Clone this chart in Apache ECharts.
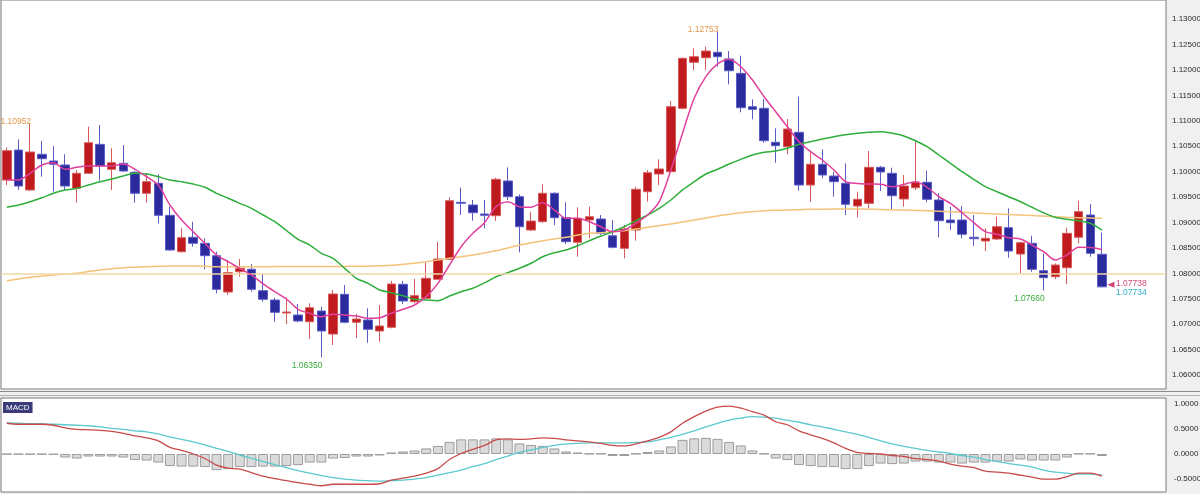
<!DOCTYPE html>
<html><head><meta charset="utf-8">
<script src="https://cdn.jsdelivr.net/npm/echarts@6/dist/echarts.min.js"></script>
<style>html,body{margin:0;padding:0;background:#f0f0f0}#c{width:1200px;height:494px}</style>
</head><body><div id="c"></div><script>
// ---- data ----
const opens = [1.09834,1.10424,1.09638,1.10340,1.10208,1.10129,1.09671,1.09966,1.10536,1.10045,
1.10163,1.09986,1.09573,1.09770,1.09140,1.08425,1.08708,1.08590,1.08346,1.07632,
1.08031,1.08079,1.07658,1.07475,1.07219,1.07180,1.07048,1.07259,1.06806,1.07587,
1.07037,1.07082,1.06865,1.06938,1.07784,1.07442,1.07508,1.07882,1.08275,1.09396,
1.09343,1.09166,1.09133,1.09815,1.09506,1.08851,1.09015,1.09573,1.09093,1.08610,
1.09048,1.09068,1.08739,1.08491,1.08851,1.09604,1.09952,1.09998,1.11244,1.12149,
1.12239,1.12345,1.12214,1.11932,1.11276,1.11244,1.10576,1.10489,1.10772,1.09736,
1.10143,1.09913,1.09770,1.09323,1.09376,1.10084,1.09966,1.09461,1.09683,1.09789,
1.09441,1.09048,1.09048,1.08708,1.08635,1.08674,1.08897,1.08379,1.08590,1.08051,
1.07933,1.08110,1.08708,1.09146,1.08374];
const closes = [1.10411,1.09716,1.10385,1.10253,1.10143,1.09716,1.09966,1.10568,1.10110,1.10175,
1.10011,1.09573,1.09801,1.09140,1.08458,1.08700,1.08590,1.08346,1.07685,1.08012,
1.08098,1.07685,1.07489,1.07233,1.07239,1.07062,1.07324,1.06865,1.07593,1.07037,
1.07101,1.06899,1.06964,1.07790,1.07455,1.07560,1.07902,1.08281,1.09427,1.09376,
1.09191,1.09140,1.09848,1.09506,1.08916,1.09028,1.09573,1.09093,1.08621,1.09081,
1.09113,1.08786,1.08511,1.08871,1.09652,1.09978,1.10051,1.11276,1.12227,1.12259,
1.12371,1.12259,1.11983,1.11256,1.11224,1.10607,1.10509,1.10837,1.09736,1.10143,
1.09933,1.09801,1.09357,1.09455,1.10084,1.09992,1.09526,1.09716,1.09789,1.09455,
1.09034,1.08995,1.08767,1.08680,1.08688,1.08916,1.08438,1.08602,1.08079,1.07913,
1.08163,1.08786,1.09211,1.08393,1.07734];
const lows = [1.09736,1.09638,1.09618,1.09899,1.09604,1.09638,1.09388,1.09950,1.09821,1.09638,
1.09995,1.09388,1.09388,1.08983,1.08444,1.08405,1.08523,1.08079,1.07607,1.07573,
1.07933,1.07638,1.07442,1.07048,1.07003,1.07037,1.06708,1.06350,1.06590,1.07017,
1.06722,1.06635,1.06655,1.06918,1.07396,1.07410,1.07489,1.07869,1.08261,1.09146,
1.09034,1.08885,1.09028,1.09441,1.08413,1.08832,1.08995,1.08950,1.08576,1.08326,
1.08688,1.08753,1.08491,1.08295,1.08641,1.09408,1.09736,1.09986,1.11224,1.11997,
1.11997,1.12062,1.11716,1.11166,1.11028,1.10568,1.10175,1.10340,1.09624,1.09408,
1.09868,1.09506,1.09146,1.09101,1.09278,1.09618,1.09264,1.09310,1.09638,1.09396,
1.08708,1.08851,1.08688,1.08537,1.08438,1.08655,1.08307,1.08000,1.08031,1.07660,
1.07888,1.07790,1.08590,1.08326,1.07725];
const highs = [1.10477,1.10635,1.10952,1.10601,1.10503,1.10340,1.10031,1.10882,1.10916,1.10458,
1.10523,1.10011,1.09966,1.09946,1.09310,1.08885,1.09015,1.08688,1.08425,1.08261,
1.08281,1.08183,1.08000,1.07520,1.07524,1.07396,1.07410,1.07343,1.07672,1.07770,
1.07194,1.07312,1.07377,1.07849,1.07849,1.07888,1.08208,1.08615,1.09494,1.09683,
1.09441,1.09441,1.09880,1.10084,1.09553,1.09211,1.09750,1.09593,1.09396,1.09298,
1.09310,1.09146,1.09048,1.08950,1.09703,1.10031,1.10241,1.11388,1.12240,1.12424,
1.12455,1.12753,1.12371,1.12278,1.11421,1.11427,1.10851,1.11034,1.11472,1.10371,
1.10438,1.09998,1.10163,1.09604,1.10405,1.10110,1.10076,1.09933,1.10621,1.10017,
1.09573,1.09310,1.09323,1.09146,1.08885,1.09113,1.09278,1.08622,1.08739,1.08393,
1.08196,1.08897,1.09427,1.09363,1.08798];
const maShort = [1.09835,1.09835,1.09966,1.10129,1.10175,1.10045,1.10084,1.10110,1.10110,1.10110,
1.10149,1.10045,1.09899,1.09736,1.09343,1.09048,1.08818,1.08590,1.08360,1.08228,
1.08098,1.07967,1.07790,1.07638,1.07495,1.07292,1.07214,1.07147,1.07194,1.07180,
1.07160,1.07115,1.07127,1.07214,1.07292,1.07377,1.07541,1.07803,1.08163,1.08523,
1.08786,1.08995,1.09310,1.09408,1.09310,1.09298,1.09388,1.09245,1.09081,1.09081,
1.09015,1.08916,1.08818,1.08851,1.08983,1.09146,1.09408,1.10031,1.10753,1.11441,
1.11866,1.12115,1.12208,1.12062,1.11801,1.11472,1.11177,1.10882,1.10588,1.10391,
1.10228,1.10031,1.09801,1.09766,1.09756,1.09750,1.09703,1.09750,1.09801,1.09691,
1.09506,1.09376,1.09191,1.08995,1.08818,1.08767,1.08700,1.08674,1.08556,1.08425,
1.08262,1.08360,1.08511,1.08507,1.08468];
const maMid = [1.09298,1.09343,1.09408,1.09486,1.09573,1.09638,1.09671,1.09736,1.09801,1.09854,
1.09913,1.09966,1.09952,1.09899,1.09834,1.09801,1.09756,1.09691,1.09573,1.09475,
1.09376,1.09278,1.09146,1.09015,1.08842,1.08669,1.08556,1.08393,1.08295,1.08098,
1.07902,1.07803,1.07672,1.07619,1.07560,1.07489,1.07475,1.07461,1.07554,1.07638,
1.07705,1.07811,1.07933,1.08012,1.08098,1.08197,1.08326,1.08405,1.08458,1.08541,
1.08641,1.08733,1.08818,1.08916,1.09034,1.09146,1.09278,1.09441,1.09640,1.09801,
1.09952,1.10045,1.10149,1.10241,1.10326,1.10379,1.10405,1.10458,1.10536,1.10588,
1.10641,1.10686,1.10725,1.10753,1.10772,1.10784,1.10753,1.10700,1.10607,1.10489,
1.10326,1.10163,1.09998,1.09848,1.09703,1.09604,1.09506,1.09408,1.09298,1.09191,
1.09101,1.09061,1.09034,1.08983,1.08851];
const maLong = [1.07854,1.07888,1.07921,1.07947,1.07967,1.07986,1.08000,1.08035,1.08065,1.08089,
1.08110,1.08120,1.08130,1.08138,1.08144,1.08144,1.08144,1.08138,1.08130,1.08130,
1.08130,1.08130,1.08130,1.08132,1.08134,1.08134,1.08134,1.08134,1.08136,1.08136,
1.08138,1.08140,1.08147,1.08157,1.08177,1.08197,1.08228,1.08261,1.08295,1.08326,
1.08360,1.08399,1.08444,1.08497,1.08556,1.08596,1.08641,1.08674,1.08708,1.08753,
1.08786,1.08798,1.08818,1.08838,1.08871,1.08904,1.08936,1.08969,1.09009,1.09048,
1.09087,1.09127,1.09160,1.09191,1.09211,1.09231,1.09239,1.09245,1.09251,1.09258,
1.09260,1.09264,1.09264,1.09264,1.09260,1.09254,1.09248,1.09245,1.09237,1.09229,
1.09221,1.09211,1.09200,1.09188,1.09176,1.09166,1.09156,1.09146,1.09136,1.09127,
1.09113,1.09101,1.09093,1.09087,1.09081];
const macdLine = [0.61,0.59,0.59,0.59,0.57,0.52,0.49,0.48,0.47,0.45,
0.41,0.36,0.32,0.26,0.13,0.07,0.00,-0.09,-0.22,-0.28,
-0.30,-0.37,-0.44,-0.49,-0.53,-0.57,-0.60,-0.63,-0.60,-0.60,
-0.60,-0.60,-0.59,-0.52,-0.48,-0.44,-0.38,-0.29,-0.11,0.01,
0.09,0.17,0.28,0.30,0.29,0.30,0.32,0.31,0.28,0.26,
0.24,0.21,0.17,0.16,0.20,0.26,0.33,0.44,0.61,0.74,
0.85,0.93,0.95,0.91,0.84,0.77,0.64,0.58,0.46,0.38,
0.31,0.22,0.11,0.03,0.01,0.00,-0.03,-0.05,-0.09,-0.11,
-0.14,-0.20,-0.24,-0.27,-0.34,-0.36,-0.38,-0.42,-0.46,-0.50,
-0.50,-0.45,-0.38,-0.38,-0.44];
const signalLine = [0.62,0.61,0.60,0.60,0.59,0.58,0.57,0.56,0.54,0.51,
0.49,0.46,0.44,0.40,0.34,0.29,0.24,0.18,0.11,0.05,
-0.02,-0.08,-0.15,-0.21,-0.27,-0.33,-0.38,-0.43,-0.47,-0.50,
-0.52,-0.53,-0.54,-0.53,-0.52,-0.50,-0.47,-0.42,-0.37,-0.32,
-0.25,-0.19,-0.11,-0.04,0.03,0.08,0.13,0.17,0.20,0.21,
0.22,0.22,0.22,0.22,0.23,0.24,0.28,0.33,0.39,0.46,
0.54,0.61,0.67,0.71,0.74,0.73,0.71,0.67,0.63,0.58,
0.54,0.49,0.44,0.39,0.33,0.26,0.20,0.15,0.11,0.07,
0.04,0.01,-0.03,-0.06,-0.11,-0.15,-0.19,-0.22,-0.26,-0.32,
-0.36,-0.38,-0.40,-0.40,-0.42];
const histogram = [-0.005,-0.005,-0.005,-0.005,-0.01,-0.07,-0.09,-0.05,-0.05,-0.05,
-0.07,-0.12,-0.13,-0.17,-0.24,-0.25,-0.25,-0.26,-0.32,-0.30,
-0.26,-0.26,-0.25,-0.25,-0.24,-0.22,-0.17,-0.17,-0.09,-0.08,
-0.05,-0.05,-0.03,0.03,0.05,0.07,0.11,0.16,0.24,0.29,
0.29,0.29,0.31,0.29,0.21,0.18,0.16,0.11,0.05,0.03,
0.005,0.005,-0.04,-0.04,0.005,0.04,0.07,0.15,0.28,0.31,
0.32,0.30,0.24,0.17,0.07,0.005,-0.09,-0.12,-0.22,-0.24,
-0.26,-0.26,-0.30,-0.30,-0.24,-0.19,-0.20,-0.19,-0.15,-0.15,
-0.17,-0.17,-0.19,-0.17,-0.17,-0.15,-0.15,-0.11,-0.13,-0.13,
-0.13,-0.07,0.005,0.005,-0.04];
const priceTicks = [1.06,1.065,1.07,1.075,1.08,1.085,1.09,1.095,1.10,1.105,1.11,1.115,1.12,1.125,1.13];
const macdTicks = [-0.5,0,0.5,1.0];
const bidPrice = 1.07738;
const highMarks = [2, 61];   // candle indexes of annotated highs
const lowMarks = [27, 89];   // candle indexes of annotated lows
const SLOTS = 100;           // category slots (95 candles + empty space on the right)
const categories = Array.from({length: SLOTS}, (_, i) => 'D' + (i + 1));

// ---- chart ----
const chart = echarts.init(document.getElementById('c'), null, {renderer: 'canvas'});
const lastIdx = closes.length - 1;
const candles = opens.map((o, i) => [o, closes[i], lows[i], highs[i]]);
const axisFont = "'Liberation Sans','Arial',sans-serif";
const markFont = "'Liberation Sans','DejaVu Sans',sans-serif";
const hidden = {show: false};

const markData = [];
highMarks.forEach(i => markData.push({
  coord: [categories[i], highs[i]], symbol: 'circle', symbolSize: 1,
  itemStyle: {color: 'rgba(0,0,0,0)'},
  label: {show: true, position: 'inside', formatter: highs[i].toFixed(5), color: '#e39a4a',
    fontSize: 8.5, fontFamily: markFont, align: 'right', verticalAlign: 'bottom', offset: [1, 3]}
}));
lowMarks.forEach(i => markData.push({
  coord: [categories[i], lows[i]], symbol: 'circle', symbolSize: 1,
  itemStyle: {color: 'rgba(0,0,0,0)'},
  label: {show: true, position: 'inside', formatter: lows[i].toFixed(5), color: '#3aad3a',
    fontSize: 8.5, fontFamily: markFont, align: 'right', verticalAlign: 'top', offset: [1, 4]}
}));
markData.push({
  coord: [categories[lastIdx], bidPrice], symbol: 'triangle', symbolSize: [6, 7], symbolRotate: 90,
  symbolOffset: [9, -2], itemStyle: {color: '#d0407a'}, label: {show: false}
});
markData.push({
  coord: [categories[lastIdx], bidPrice], symbol: 'circle', symbolSize: 1,
  itemStyle: {color: 'rgba(0,0,0,0)'},
  label: {show: true, position: 'inside', formatter: bidPrice.toFixed(5), color: '#d04a7c',
    fontSize: 8.5, fontFamily: markFont, align: 'left', verticalAlign: 'middle', offset: [14, -3]}
});
markData.push({
  coord: [categories[lastIdx], closes[lastIdx]], symbol: 'circle', symbolSize: 1,
  itemStyle: {color: 'rgba(0,0,0,0)'},
  label: {show: true, position: 'inside', formatter: closes[lastIdx].toFixed(5), color: '#30afc8',
    fontSize: 8.5, fontFamily: markFont, align: 'left', verticalAlign: 'middle', offset: [14, 5.5]}
});

const option = {
  animation: false,
  backgroundColor: '#f0f0f0',
  title: {
    text: 'MACD', left: 3, top: 402, padding: [2, 3, 1, 3], backgroundColor: '#3b3b7a',
    textStyle: {color: '#ffffff', fontSize: 8, fontWeight: 'normal', fontFamily: markFont}
  },
  grid: [
    {left: 1, top: 0, width: 1165, height: 389, show: true, backgroundColor: '#ffffff', borderColor: '#7a7a7a', borderWidth: 1, containLabel: false, outerBoundsMode: 'none'},
    {left: 1, top: 398, width: 1165, height: 94, show: true, backgroundColor: '#ffffff', borderColor: '#7a7a7a', borderWidth: 1, containLabel: false, outerBoundsMode: 'none'}
  ],
  xAxis: [
    {type: 'category', gridIndex: 0, data: categories, boundaryGap: true, axisLine: hidden, axisTick: hidden, axisLabel: hidden, splitLine: hidden},
    {type: 'category', gridIndex: 1, data: categories, boundaryGap: true, axisLine: hidden, axisTick: hidden, axisLabel: hidden, splitLine: hidden}
  ],
  yAxis: [
    {type: 'value', gridIndex: 0, position: 'right', min: 1.05725, max: 1.13374, scale: true,
      axisLine: hidden, axisTick: hidden, splitLine: hidden,
      axisLabel: {show: true, customValues: priceTicks, formatter: v => v.toFixed(5), color: '#2a2a2a',
        fontSize: 8, fontFamily: axisFont, margin: 6}},
    {type: 'value', gridIndex: 1, position: 'right', min: -0.754, max: 1.111,
      axisLine: hidden, axisTick: hidden, splitLine: hidden,
      axisLabel: {show: true, customValues: macdTicks, formatter: v => v.toFixed(4), color: '#2a2a2a',
        fontSize: 8, fontFamily: axisFont, margin: 8}}
  ],
  graphic: [
    {type: 'line', shape: {x1: 0, y1: 391.5, x2: 1200, y2: 391.5}, style: {stroke: '#8a8a8a', lineWidth: 1}, silent: true},
    {type: 'line', shape: {x1: 0, y1: 395.5, x2: 1200, y2: 395.5}, style: {stroke: '#b4b4b4', lineWidth: 1}, silent: true}
  ],
  series: [
    {type: 'candlestick', xAxisIndex: 0, yAxisIndex: 0, data: candles, barWidth: 9,
      itemStyle: {color: '#bf1a1e', color0: '#2b2b9e', borderColor: '#d65a5a', borderColor0: '#5c5cc8', borderWidth: 1},
      markLine: {silent: true, symbol: ['none', 'none'], label: {show: false},
        lineStyle: {color: '#f1d8a6', width: 1.5, type: 'solid'}, data: [{yAxis: bidPrice}]},
      markPoint: {silent: true, data: markData}, z: 2},
    {type: 'line', xAxisIndex: 0, yAxisIndex: 0, data: maLong, symbol: 'none', smooth: 0.3,
      lineStyle: {color: '#f5c27a', width: 1.5}, z: 3},
    {type: 'line', xAxisIndex: 0, yAxisIndex: 0, data: maMid, symbol: 'none', smooth: 0.3,
      lineStyle: {color: '#2eae3a', width: 1.5}, z: 4},
    {type: 'line', xAxisIndex: 0, yAxisIndex: 0, data: maShort, symbol: 'none', smooth: 0.3,
      lineStyle: {color: '#e0409c', width: 1.5}, z: 5},
    {type: 'bar', xAxisIndex: 1, yAxisIndex: 1, data: histogram, barWidth: 10,
      itemStyle: {color: '#dadada', borderColor: '#9c9c9c', borderWidth: 1}, z: 2},
    {type: 'line', xAxisIndex: 1, yAxisIndex: 1, data: signalLine, symbol: 'none', smooth: 0.3,
      lineStyle: {color: '#5cc9cc', width: 1.3}, z: 3},
    {type: 'line', xAxisIndex: 1, yAxisIndex: 1, data: macdLine, symbol: 'none', smooth: 0.3,
      lineStyle: {color: '#c84a4a', width: 1.3}, z: 4}
  ]
};
chart.setOption(option);
</script></body></html>
